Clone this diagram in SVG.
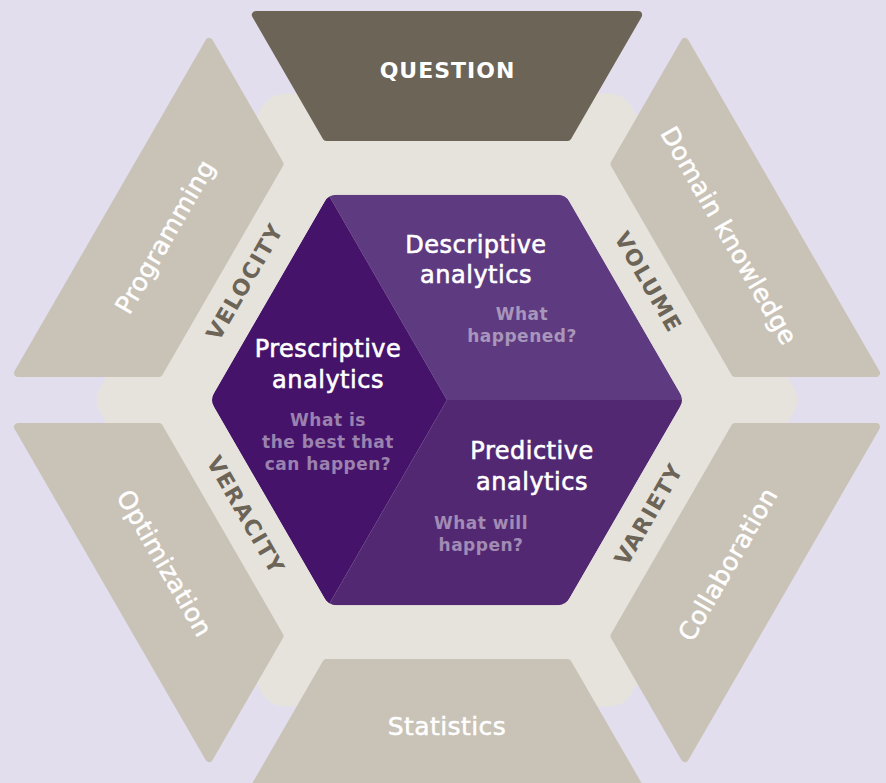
<svg xmlns="http://www.w3.org/2000/svg" xmlns:xlink="http://www.w3.org/1999/xlink" width="886" height="783" viewBox="0 0 886 783">
  <style>
    .seg { stroke-width: 8; stroke-linejoin: round; }
    .seg-light { fill: #c9c2b7; stroke: #c9c2b7; }
    .seg-dark { fill: #6b6457; stroke: #6b6457; }
    .outer-label { font-family: "DejaVu Sans", sans-serif; font-size: 25px; fill: #ffffff; stroke: #ffffff; stroke-width: 0.5px; text-anchor: middle; letter-spacing: 0.4px; }
    .head-label { font-family: "DejaVu Sans", sans-serif; font-weight: bold; font-size: 22px; fill: #ffffff; text-anchor: middle; letter-spacing: 1px; }
    .v-label { font-family: "DejaVu Sans", sans-serif; font-weight: bold; font-size: 22px; fill: #6b6457; text-anchor: middle; letter-spacing: 1.4px; }
    .title { font-family: "DejaVu Sans", sans-serif; font-size: 24px; fill: #ffffff; stroke: #ffffff; stroke-width: 0.6px; text-anchor: middle; letter-spacing: 0.5px; }
    .sub { font-family: "DejaVu Sans", sans-serif; font-weight: bold; font-size: 17px; fill: #ffffff; fill-opacity: 0.47; text-anchor: middle; letter-spacing: 0.5px; }
  </style>
  <defs>
    <!-- one ring segment (top position), inset so the round stroke gives soft corners -->
    <polygon id="ring-seg" points="255.9,15 638.1,15 567.6,137 326.4,137"/>
    <!-- inner hexagon with rounded corners -->
    <clipPath id="core-clip">
      <path d="M680,406.93 L569.5,598.27 Q565.5,605.2 557.5,605.2 L336.5,605.2 Q328.5,605.2 324.5,598.27 L214,406.93 Q210,400 214,393.07 L324.5,201.73 Q328.5,194.8 336.5,194.8 L557.5,194.8 Q565.5,194.8 569.5,201.73 L680,393.07 Q684,400 680,406.93 Z"/>
    </clipPath>
  </defs>

  <!-- background -->
  <rect x="0" y="0" width="886" height="783" fill="#e2deee"/>

  <!-- light hexagonal band -->
  <path id="band" fill="#e6e3dd" d="M793,413.86 L632,692.74 Q624,706.6 608,706.6 L286,706.6 Q270,706.6 262,692.74 L101,413.86 Q93,400 101,386.14 L262,107.26 Q270,93.4 286,93.4 L608,93.4 Q624,93.4 632,107.26 L793,386.14 Q801,400 793,413.86 Z"/>

  <!-- outer ring -->
  <g id="question">
    <use xlink:href="#ring-seg" href="#ring-seg" class="seg seg-dark"/>
    <text class="head-label" x="447.5" y="78">QUESTION</text>
  </g>
  <g id="domain-knowledge">
    <use xlink:href="#ring-seg" href="#ring-seg" class="seg seg-light" transform="rotate(60 447 400)"/>
    <text class="outer-label" transform="translate(727.5 236.5) rotate(60)" y="7">Domain knowledge</text>
  </g>
  <g id="collaboration">
    <use xlink:href="#ring-seg" href="#ring-seg" class="seg seg-light" transform="rotate(120 447 400)"/>
    <text class="outer-label" transform="translate(727.5 564) rotate(-60)" y="9">Collaboration</text>
  </g>
  <g id="statistics">
    <use xlink:href="#ring-seg" href="#ring-seg" class="seg seg-light" transform="rotate(180 447 400)"/>
    <text class="outer-label" x="447" y="735">Statistics</text>
  </g>
  <g id="optimization">
    <use xlink:href="#ring-seg" href="#ring-seg" class="seg seg-light" transform="rotate(240 447 400)"/>
    <text class="outer-label" transform="translate(163 564) rotate(60)" y="7">Optimization</text>
  </g>
  <g id="programming">
    <use xlink:href="#ring-seg" href="#ring-seg" class="seg seg-light" transform="rotate(300 447 400)"/>
    <text class="outer-label" transform="translate(166.5 237.5) rotate(-60)" y="7">Programming</text>
  </g>

  <!-- the four V labels on the band -->
  <g id="velocity">
    <text class="v-label" transform="translate(244.5 281.5) rotate(-60)" y="8">VELOCITY</text>
  </g>
  <g id="volume">
    <text class="v-label" transform="translate(648.5 282) rotate(60)" y="8">VOLUME</text>
  </g>
  <g id="variety">
    <text class="v-label" transform="translate(648.5 514) rotate(-60)" y="8">VARIETY</text>
  </g>
  <g id="veracity">
    <text class="v-label" transform="translate(246 515) rotate(60)" y="8">VERACITY</text>
  </g>

  <!-- inner hexagon: three rhombi -->
  <g clip-path="url(#core-clip)">
    <g id="descriptive">
      <polygon fill="#5e3a80" points="328.5,194.8 565.5,194.8 684,400 447,400"/>
    </g>
    <g id="predictive">
      <polygon fill="#522873" points="447,400 684,400 565.5,605.2 328.5,605.2"/>
    </g>
    <g id="prescriptive">
      <polygon fill="#45146a" points="328.5,194.8 210,400 328.5,605.2 447,400"/>
    </g>
  </g>

  <!-- inner hexagon labels -->
  <g id="descriptive-text">
    <text class="title" x="476" y="253">Descriptive</text>
    <text class="title" x="476" y="283">analytics</text>
    <text class="sub" x="522" y="320">What</text>
    <text class="sub" x="522" y="342">happened?</text>
  </g>
  <g id="prescriptive-text">
    <text class="title" x="328" y="357">Prescriptive</text>
    <text class="title" x="328" y="388">analytics</text>
    <text class="sub" x="328" y="426">What is</text>
    <text class="sub" x="328" y="448">the best that</text>
    <text class="sub" x="328" y="470">can happen?</text>
  </g>
  <g id="predictive-text">
    <text class="title" x="532" y="459">Predictive</text>
    <text class="title" x="532" y="490">analytics</text>
    <text class="sub" x="481" y="528.5">What will</text>
    <text class="sub" x="481" y="550.5">happen?</text>
  </g>
</svg>
